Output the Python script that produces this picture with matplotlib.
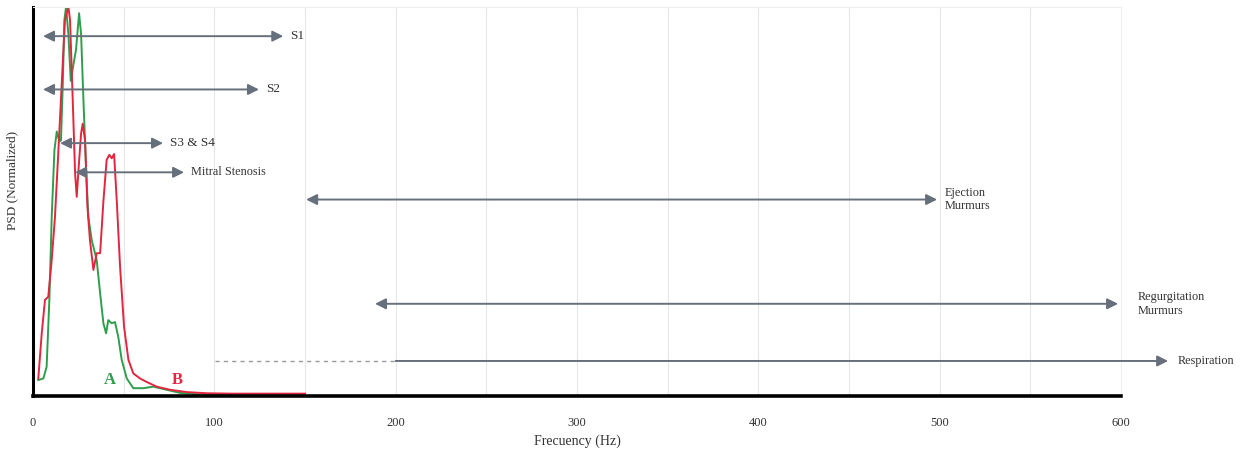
import matplotlib.pyplot as plt
import numpy as np

plt.rcParams['font.family'] = ['Liberation Serif', 'DejaVu Serif']

# normalized PSD of the two heart sound recordings
freq_a = [2.9, 5.7, 7.5, 9.0, 10.3, 11.8, 13.1, 14.5, 15.4, 16.4, 17.3, 18.2, 19.5, 20.8,
          22.2, 23.7, 25.4, 26.5, 27.8, 29.2, 30.5, 32.4, 35.1, 37.0, 38.8, 40.3, 41.5,
          43.4, 45.2, 47.0, 48.9, 51.7, 55.3, 60.8, 66.4, 73.7, 81.0, 92.0, 110.0, 150.0]
psd_a = [0.041, 0.045, 0.075, 0.247, 0.46, 0.632, 0.68, 0.654, 0.657, 0.80, 0.967, 1.0, 0.93,
         0.81, 0.85, 0.89, 0.984, 0.93, 0.76, 0.59, 0.46, 0.40, 0.35, 0.264, 0.187, 0.161,
         0.195, 0.187, 0.19, 0.152, 0.093, 0.045, 0.02, 0.02, 0.024, 0.016, 0.008, 0.004,
         0.004, 0.004]

freq_b = [2.9, 4.8, 6.6, 8.4, 10.3, 12.1, 14.0, 15.8, 17.6, 19.5, 20.4, 21.9, 23.2, 24.1,
          25.2, 26.5, 27.4, 28.7, 30.0, 31.4, 33.3, 35.1, 37.0, 38.8, 40.6, 42.1, 43.4,
          44.7, 46.2, 48.0, 50.2, 52.6, 55.3, 59.0, 62.7, 68.2, 75.6, 84.8, 95.8, 110.0, 150.0]
psd_b = [0.045, 0.161, 0.247, 0.255, 0.35, 0.46, 0.632, 0.80, 0.967, 1.0, 0.967, 0.76, 0.572,
         0.512, 0.59, 0.675, 0.70, 0.657, 0.487, 0.40, 0.324, 0.367, 0.367, 0.50, 0.607,
         0.62, 0.611, 0.622, 0.50, 0.332, 0.178, 0.093, 0.058, 0.045, 0.036, 0.024, 0.016,
         0.01, 0.007, 0.006, 0.006]

# frequency bands of heart and lung sounds
bands = ['S1', 'S2', 'S3 & S4', 'Mitral Stenosis', 'Ejection\nMurmurs', 'Regurgitation\nMurmurs']
band_lo = [5.5, 5.5, 14.9, 23.2, 150.6, 188.6]
band_hi = [138, 124.6, 71.7, 83.3, 498.6, 598.4]
band_y = [0.925, 0.788, 0.65, 0.575, 0.505, 0.237]
resp_lo, resp_mid, resp_hi, resp_y = 100.4, 200, 626, 0.09

gray = '#66707c'
green = '#2f9e4c'
red = '#e3263f'
txt = '#333333'

fig = plt.figure(figsize=(12.56, 4.54), dpi=100)
ax = fig.add_axes([0.0263, 0.1278, 0.8662, 0.8568])

ax.plot(freq_a, psd_a, color=green, lw=1.4)
ax.plot(freq_b, psd_b, color=red, lw=1.4)

arrow = dict(arrowstyle='<|-|>', color=gray, lw=1.4, mutation_scale=16, shrinkA=0, shrinkB=0)
for name, lo, hi, y in zip(bands, band_lo, band_hi, band_y):
    ax.annotate('', xy=(hi, y), xytext=(lo, y), arrowprops=arrow, annotation_clip=False)
    fs = 9.5 if name.startswith('S') else 8.8
    gap = 11 if name.startswith('Regurg') else 4
    ax.text(hi + gap, y, name, fontsize=fs, color=txt, va='center', ha='left',
            linespacing=1.2)

# respiration: dashed lead-in, then a one-sided arrow
ax.plot([resp_lo, resp_mid], [resp_y, resp_y], color='#9a9a9a', lw=1, ls=(0, (3, 3)))
ax.annotate('', xy=(resp_hi, resp_y), xytext=(resp_mid, resp_y), annotation_clip=False,
            arrowprops=dict(arrowstyle='-|>', color=gray, lw=1.4, mutation_scale=16,
                            shrinkA=0, shrinkB=0))
ax.text(resp_hi + 5, resp_y, 'Respiration', fontsize=8.8, color=txt, va='center', ha='left')

ax.text(42.5, 0.04, 'A', color=green, fontsize=12, fontweight='bold', ha='center', va='center')
ax.text(79.4, 0.04, 'B', color=red, fontsize=12, fontweight='bold', ha='center', va='center')

ax.set_xlim(0, 600)
ax.set_ylim(0, 1.0)
ax.set_xticks(np.arange(0, 601, 100))
ax.set_xticks(np.arange(0, 601, 50), minor=True)
ax.set_yticks([])
ax.grid(True, axis='x', which='both', color='#e6e6e6', lw=0.8)
ax.tick_params(axis='x', which='both', length=0, pad=15, labelsize=9, labelcolor='#333333')

for side in ['top', 'right']:
    ax.spines[side].set_color('#eeeeee')
    ax.spines[side].set_linewidth(0.8)
ax.spines['left'].set_linewidth(2.2)
ax.spines['bottom'].set_linewidth(2.6)

ax.set_xlabel('Frecuency (Hz)', fontsize=10, color='#333333')
ax.xaxis.set_label_coords(0.5, -0.1)
ax.set_ylabel('PSD (Normalized)', fontsize=9.5, color='#333333')
ax.yaxis.set_label_coords(-0.014, 0.555)

fig.savefig('out.png', dpi=100)
